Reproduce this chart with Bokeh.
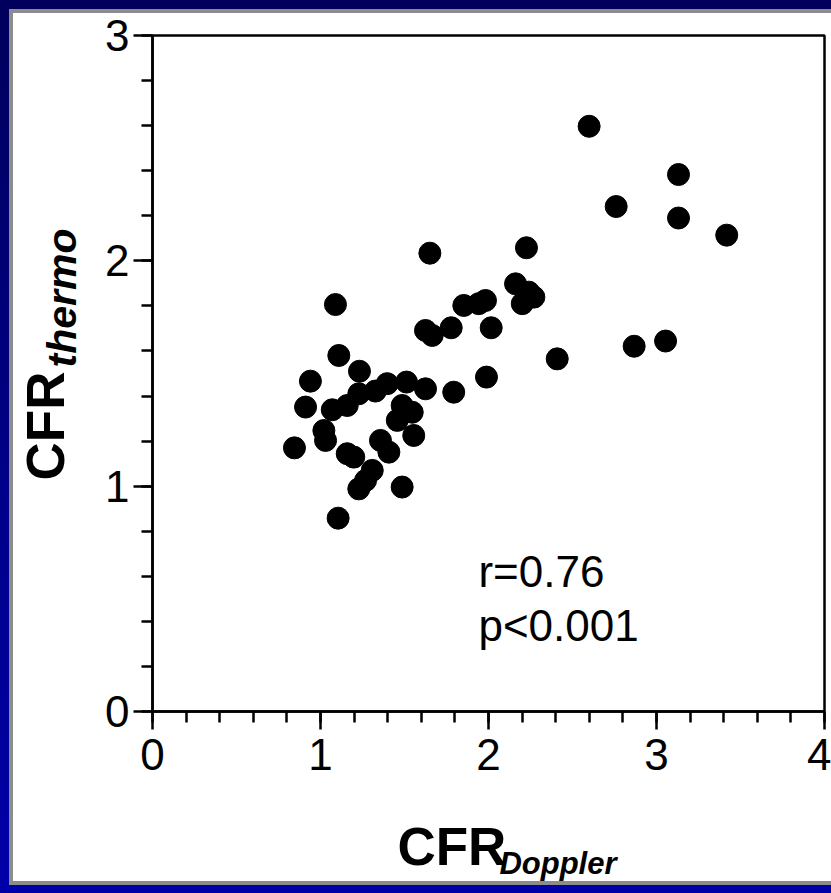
import math
from bokeh.plotting import figure
from bokeh.layouts import column, row
from bokeh.models import Label, SingleIntervalTicker, ColumnDataSource, Range1d
from bokeh.embed import file_html
from bokeh.resources import INLINE

# ---- data ----
cfr_doppler = [
    1.109, 1.232, 0.940, 0.911, 1.070, 1.159, 1.228, 1.327, 1.397, 1.512,
    1.625, 1.486, 1.546, 1.457, 1.555, 1.357, 1.407, 1.020, 1.030, 0.845,
    1.159, 1.198, 1.308, 1.268, 1.228, 1.486, 1.089, 1.105,
    1.651, 2.226, 2.161, 2.240, 2.270, 2.201, 1.853, 1.942, 1.982, 1.625,
    1.665, 1.778, 2.016, 2.409, 1.988, 1.793,
    2.599, 3.131, 2.760, 3.131, 3.418, 3.054, 2.867,
]
cfr_thermo = [
    1.580, 1.510, 1.466, 1.351, 1.339, 1.358, 1.410, 1.422, 1.455, 1.462,
    1.432, 1.358, 1.328, 1.292, 1.225, 1.203, 1.151, 1.247, 1.203, 1.170,
    1.144, 1.129, 1.070, 1.025, 0.988, 0.996, 1.806, 0.858,
    2.034, 2.058, 1.898, 1.861, 1.839, 1.810, 1.802, 1.810, 1.824, 1.691,
    1.669, 1.703, 1.703, 1.565, 1.484, 1.417,
    2.597, 2.383, 2.241, 2.190, 2.114, 1.644, 1.621,
]
x_title_main, x_title_sub = "CFR", "Doppler"
y_title_main, y_title_sub = "CFR", "thermo"
stat_lines = ["r=0.76", "p<0.001"]

# ---- page geometry (page pixels) ----
W, H = 831, 893
LEFT_X1 = 93                       # right edge of the y-title strip
BOT_Y0 = 800                       # top edge of the x-title strip
FL, FR, FT, FB = 152, 824, 35, 711 # plotting frame edges
BASE_SHIFT = 0.39                  # rendered baseline sits this many em below the anchor

FONT = "Liberation Sans"

# ---- main scatter figure ----
p = figure(width=W - LEFT_X1, height=BOT_Y0, x_range=(0, 4), y_range=(0, 3),
           output_backend="svg", toolbar_location=None, title=None,
           min_border_left=FL - LEFT_X1, min_border_right=W - FR,
           min_border_top=FT, min_border_bottom=BOT_Y0 - FB,
           border_fill_color=None, background_fill_color="white")
p.grid.visible = False
p.outline_line_color = "black"
p.outline_line_width = 2.5

src = ColumnDataSource(dict(x=cfr_doppler, y=cfr_thermo))
p.scatter("x", "y", source=src, size=22, fill_color="black", line_color="black")

for ax in (p.xaxis[0], p.yaxis[0]):
    ax.ticker = SingleIntervalTicker(interval=1, num_minor_ticks=5)
    ax.axis_line_color = "black"
    ax.axis_line_width = 2.5
    ax.major_tick_line_color = "black"
    ax.major_tick_line_width = 2.5
    ax.minor_tick_line_color = "black"
    ax.minor_tick_line_width = 2.5
    ax.major_tick_in = 0
    ax.minor_tick_in = 0
    ax.minor_tick_out = 11
    ax.major_label_text_font = FONT
    ax.major_label_text_font_size = "44px"
    ax.major_label_text_color = "black"
p.xaxis.major_tick_out = 18
p.xaxis.major_label_standoff = 9
p.yaxis.major_tick_out = 19
p.yaxis.major_label_standoff = 4

# statistics text (baselines at page y 588 and 642)
y_per_px = 3.0 / (FB - FT)
for s, base_y in zip(stat_lines, (588, 642)):
    yy = (FB - (base_y - BASE_SHIFT * 44)) * y_per_px
    p.add_layout(Label(x=1.94, y=yy, text=s,
                       text_font=FONT, text_font_size="44px",
                       text_align="left", text_baseline="alphabetic", text_color="black"))


def text_strip(x0, x1, y0, y1):
    """A transparent blank figure whose data coordinates equal page pixels (y downwards)."""
    f = figure(width=x1 - x0, height=y1 - y0, title=None,
               x_range=Range1d(x0, x1), y_range=Range1d(y1, y0),
               x_axis_type=None, y_axis_type=None,
               output_backend="svg", toolbar_location=None,
               min_border=0, border_fill_color=None, background_fill_color=None)
    f.grid.visible = False
    f.outline_line_color = None
    return f


def title_label(text, px, py, size, style, angle=0.0):
    shift = BASE_SHIFT * size
    if angle:
        px -= shift
    else:
        py -= shift
    return Label(x=px, y=py, text=text, angle=angle,
                 text_font=FONT, text_font_size="%dpx" % size, text_font_style=style,
                 text_align="left", text_baseline="alphabetic", text_color="black")


# x-axis title strip
bottom = text_strip(LEFT_X1, W, BOT_Y0, H)
bottom.add_layout(title_label(x_title_main, 362, 867, 53, "bold"))
bottom.add_layout(title_label(x_title_sub, 474, 875, 31, "bold italic"))

# y-axis title strip
left = text_strip(0, LEFT_X1, 0, H)
left.add_layout(title_label(y_title_main, 66, 480, 53, "bold", math.pi / 2))
left.add_layout(title_label(y_title_sub, 77, 367, 41, "bold italic", math.pi / 2))

body = row(left, column(p, bottom, spacing=0), spacing=0)

# slide background: blue gradient, grey edge, white panel (drawn behind the figures)
page_bg = ", ".join([
    "linear-gradient(#ffffff, #ffffff) 13px 13px / 818px 868px no-repeat",
    "linear-gradient(#8c8c8c, #8c8c8c) 9px 9px / 822px 876px no-repeat",
    "linear-gradient(180deg, #00005c 0%, #00008a 55%, #0000a8 100%)",
])
outer = column(body, styles={"background": page_bg})

open("out.html", "w").write(file_html(outer, INLINE))
